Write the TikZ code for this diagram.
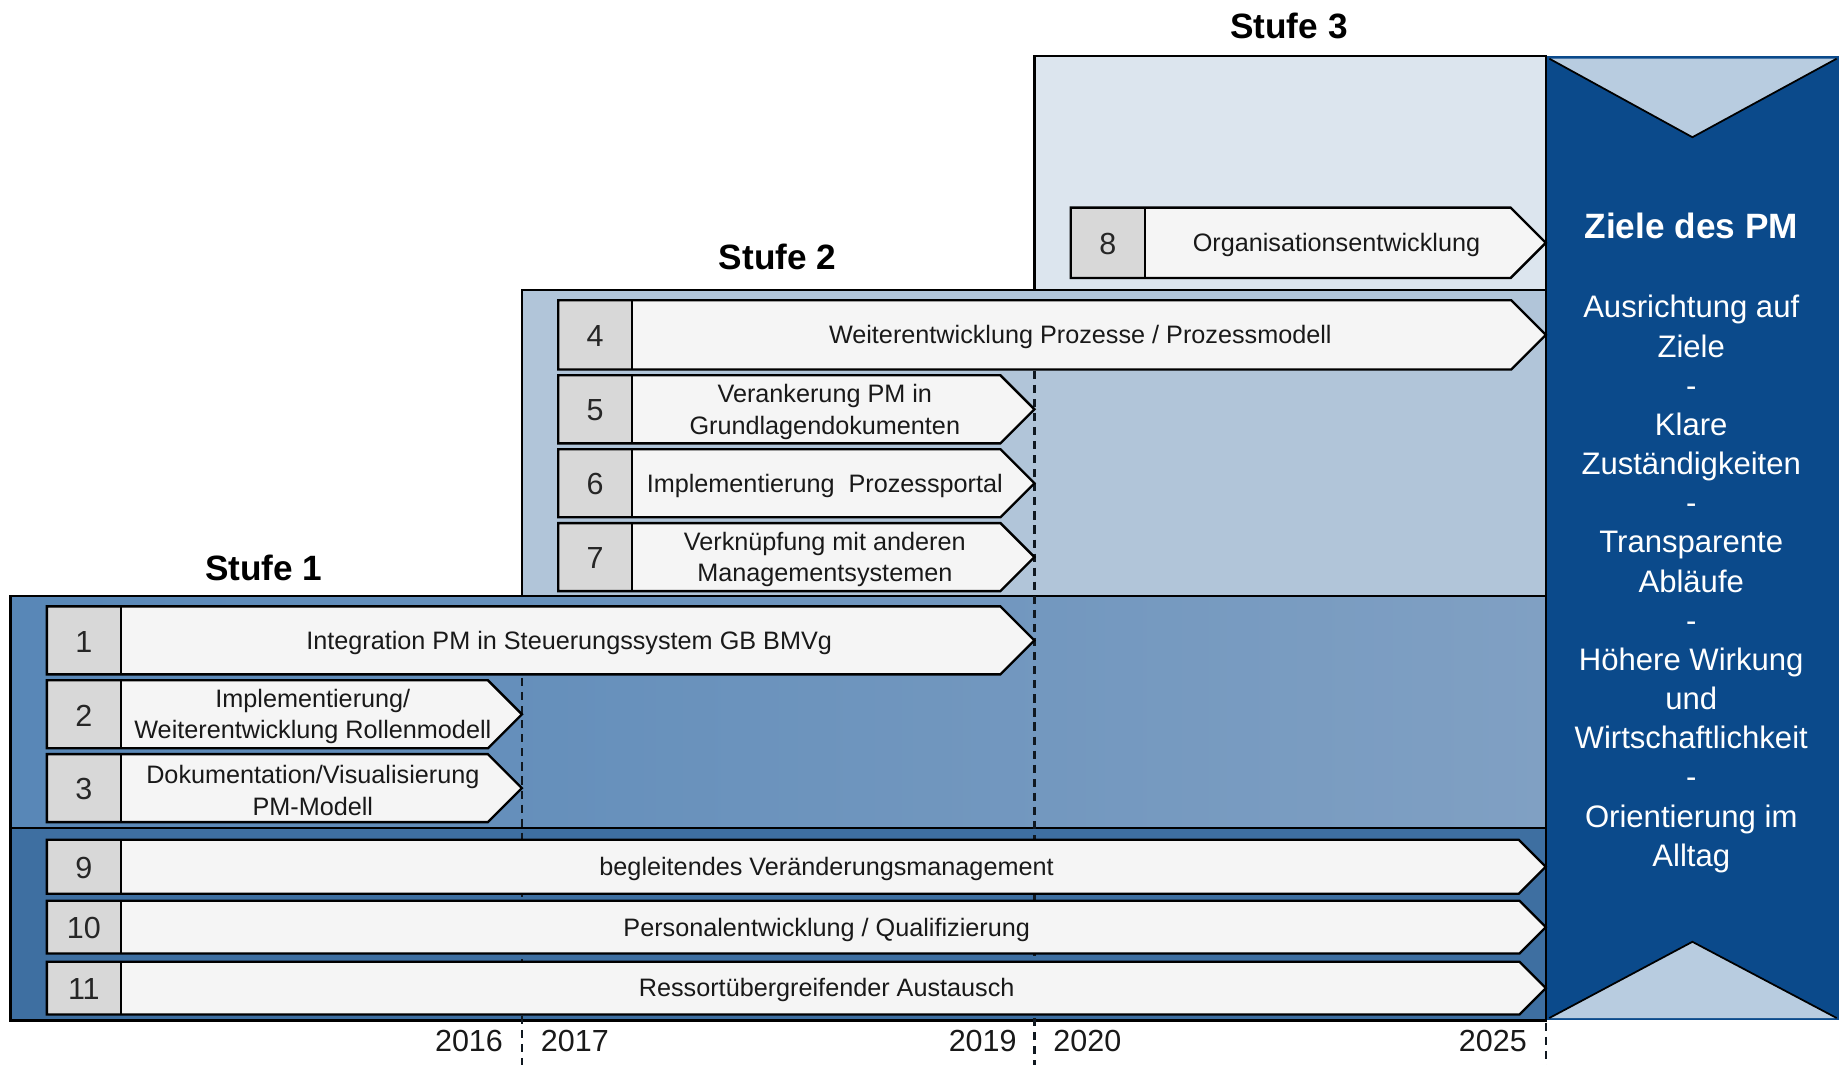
\documentclass[tikz,border=0pt]{standalone}
\usepackage{fontspec}
\setmainfont{Liberation Sans}
\definecolor{sthree}{HTML}{DCE5EE}
\definecolor{stwo}{HTML}{B1C5D9}
\definecolor{soneL}{HTML}{5887B7}
\definecolor{soneR}{HTML}{80A0C3}
\definecolor{lowfill}{HTML}{3E6FA1}
\definecolor{panelblue}{HTML}{0B4A8B}
\definecolor{trifill}{HTML}{B8CCE0}
\definecolor{numgray}{HTML}{D8D8D8}
\definecolor{labwhite}{HTML}{F5F5F5}
\definecolor{dashcol}{HTML}{101820}
\tikzset{
  box/.style={draw=black, line width=2pt},
  outl/.style={draw=black, line width=2pt, line join=miter},
  labtxt/.style={font=\fontsize{21.5}{27}\selectfont, align=center, text=black!90, inner sep=0pt, yshift=-2pt},
  numtxt/.style={font=\fontsize{26}{30}\selectfont, text=black!85, inner sep=0pt, yshift=-1pt},
  yeartxt/.style={font=\fontsize{26}{30}\selectfont, text=black!90, inner sep=0pt},
  stufetxt/.style={font=\bfseries\fontsize{30}{34}\selectfont, text=black, inner sep=0pt},
  paneltxt/.style={font=\fontsize{26.5}{33.4}\selectfont, text=white, align=center, inner sep=0pt},
  paneltitle/.style={font=\bfseries\fontsize{30}{34}\selectfont, text=white, inner sep=0pt},
  yearline/.style={draw=dashcol, line width=2pt, dash pattern=on 7pt off 5pt},
  trianglefill/.style={fill=trifill},
}
% #1 name, #2 x0, #3 xtip, #4 ytop, #5 ybot, #6 number, #7 label
\newcommand{\procarrow}[7]{%
  \pgfmathsetmacro\arHa{(#5-#4)/2}%
  \pgfmathsetmacro\arXb{#3-\arHa}%
  \pgfmathsetmacro\arXn{#2+63}%
  \pgfmathsetmacro\arYm{(#4+#5)/2}%
  \pgfmathsetmacro\arXt{(\arXn+#3-\arHa/2)/2}%
  \pgfmathsetmacro\arXc{(#2+\arXn)/2}%
  \fill[labwhite] (\arXn,#4) -- (\arXb,#4) -- (#3,\arYm) -- (\arXb,#5) -- (\arXn,#5) -- cycle;
  \fill[numgray] (#2,#4) rectangle (\arXn,#5);
  \draw[outl] (#2,#4) -- (\arXb,#4) -- (#3,\arYm) -- (\arXb,#5) -- (#2,#5) -- cycle;
  \draw[outl] (\arXn,#4) -- (\arXn,#5);
  \node[numtxt] (#1n) at (\arXc,\arYm) {#6};
  \node[labtxt] (#1l) at (\arXt,\arYm) {#7};
}
\begin{document}
\begin{tikzpicture}[x=1pt,y=-1pt]
\useasboundingbox (0,0) rectangle (1568,908);
% stage boxes
\filldraw[box, fill=sthree] (882,48) rectangle (1318,247);
\filldraw[box, fill=stwo] (445,247) rectangle (1318,508);
\shade[left color=soneL, right color=soneR] (9,508) rectangle (1318,706);
\draw[box] (9,508) rectangle (1318,706);
\filldraw[box, fill=lowfill] (9,706) rectangle (1318,870);
% year separators
\draw[yearline] (445,578) -- (445,908);
\draw[yearline] (882,316) -- (882,908);
\draw[yearline] (1318,872) -- (1318,908);
% goal panel
\fill[panelblue] (1318,48) rectangle (1568,870);
\fill[trianglefill] (1321,50) -- (1566,50) -- (1443,117) -- cycle;
\draw[black, line width=1.5pt] (1321,50) -- (1443,117) -- (1566,50);
\fill[trianglefill] (1321,868) -- (1566,868) -- (1443,803) -- cycle;
\draw[black, line width=1.5pt] (1321,868) -- (1443,803) -- (1566,868);
\draw[black, line width=2pt] (1318,48) -- (1318,870);
% arrows
\procarrow{a8}{913}{1318}{177}{237}{8}{Organisationsentwicklung}
\procarrow{a4}{476}{1318}{256}{315}{4}{Weiterentwicklung Prozesse / Prozessmodell}
\procarrow{a5}{476}{882}{320}{378}{5}{Verankerung PM in\\Grundlagendokumenten}
\procarrow{a6}{476}{882}{383}{441}{6}{Implementierung\ \ Prozessportal}
\procarrow{a7}{476}{882}{446}{504}{7}{Verknüpfung mit anderen\\Managementsystemen}
\procarrow{a1}{40}{882}{517}{575}{1}{Integration PM in Steuerungssystem GB BMVg}
\procarrow{a2}{40}{445}{580}{638}{2}{Implementierung/\\Weiterentwicklung Rollenmodell}
\procarrow{a3}{40}{445}{643}{701}{3}{Dokumentation/Visualisierung\\PM-Modell}
\procarrow{a9}{40}{1318}{716}{762}{9}{begleitendes Veränderungsmanagement}
\procarrow{a10}{40}{1318}{768}{813}{10}{Personalentwicklung / Qualifizierung}
\procarrow{a11}{40}{1318}{820}{865}{11}{Ressortübergreifender Austausch}
% stage titles
\node[stufetxt] (t3) at (1099,22) {Stufe 3};
\node[stufetxt] (t2) at (663,219) {Stufe 2};
\node[stufetxt] (t1) at (225,484) {Stufe 1};
% years
\node[yeartxt, anchor=east] (y2016) at (429,888) {2016};
\node[yeartxt, anchor=west] (y2017) at (461,888) {2017};
\node[yeartxt, anchor=east] (y2019) at (867,888) {2019};
\node[yeartxt, anchor=west] (y2020) at (898,888) {2020};
\node[yeartxt, anchor=east] (y2025) at (1302,888) {2025};
% panel texts
\node[paneltitle] (ptitle) at (1442,193) {Ziele des PM};
\node[paneltxt] (ptext) at (1442,498) {Ausrichtung auf\\Ziele\\-\\Klare\\Zuständigkeiten\\-\\Transparente\\Abläufe\\-\\Höhere Wirkung\\und\\Wirtschaftlichkeit\\-\\Orientierung im\\Alltag};
\end{tikzpicture}
\end{document}
